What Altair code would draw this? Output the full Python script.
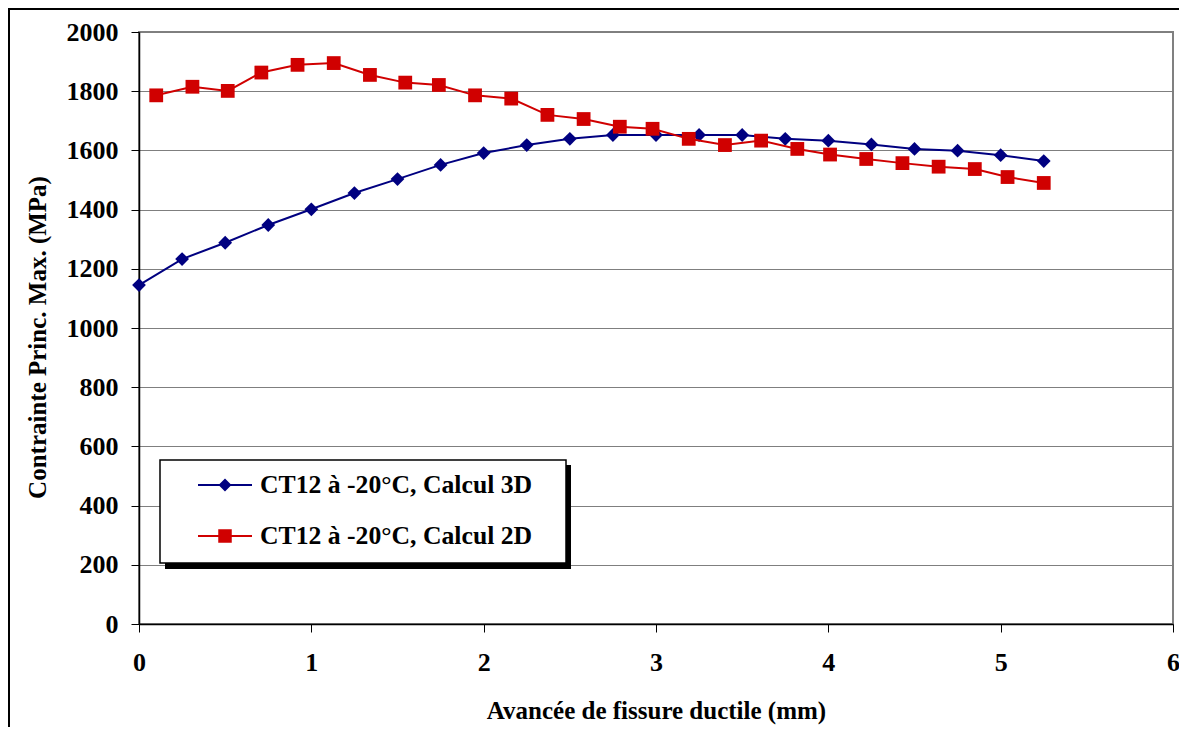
import altair as alt
import pandas as pd

# ---- data ----
names = ["CT12 à -20°C, Calcul 3D", "CT12 à -20°C, Calcul 2D"]
colors = ["#000080", "#D00000"]

x3d = [0.0, 0.25, 0.5, 0.75, 1.0, 1.25, 1.5, 1.75, 2.0, 2.25, 2.5, 2.75,
       3.0, 3.25, 3.5, 3.75, 4.0, 4.25, 4.5, 4.75, 5.0, 5.25]
y3d = [1145, 1233, 1288, 1348, 1401, 1456, 1503, 1551, 1591, 1618, 1639, 1652,
       1652, 1652, 1652, 1639, 1633, 1620, 1605, 1599, 1584, 1564]

x2d = [0.10, 0.31, 0.515, 0.71, 0.92, 1.13, 1.34, 1.545, 1.74, 1.95, 2.16, 2.37,
       2.58, 2.79, 2.98, 3.19, 3.40, 3.61, 3.82, 4.01, 4.22, 4.43, 4.64, 4.85,
       5.04, 5.25]
y2d = [1786, 1815, 1801, 1863, 1889, 1895, 1855, 1829, 1821, 1786, 1775, 1720,
       1706, 1680, 1673, 1639, 1618, 1633, 1605, 1586, 1571, 1557, 1545, 1537,
       1510, 1490]

x_ticks = [0, 1, 2, 3, 4, 5, 6]
y_ticks = [0, 200, 400, 600, 800, 1000, 1200, 1400, 1600, 1800, 2000]

x_title = "Avancée de fissure ductile (mm)"
y_title = "Contrainte Princ. Max. (MPa)"

df = pd.concat([
    pd.DataFrame({"x": x3d, "y": y3d, "serie": names[0]}),
    pd.DataFrame({"x": x2d, "y": y2d, "serie": names[1]}),
], ignore_index=True)

FONT = "Liberation Serif"
W, H = 1034, 592

# legend symbols: line with marker (custom paths)
P3 = "M-1,-0.037H1V0.037H-1Z M0,-0.24L0.24,0L0,0.24L-0.24,0Z"
P2 = "M-1,-0.037H1V0.037H-1Z M-0.25,-0.25H0.25V0.25H-0.25Z"

xscale = alt.Scale(domain=[0, 6], nice=False)
yscale = alt.Scale(domain=[0, 2000], nice=False)
xenc = alt.X("x:Q", scale=xscale,
             axis=alt.Axis(values=x_ticks, format="d", title=x_title, grid=False,
                           labelFlush=False, labelOverlap=False,
                           labelPadding=30, labelBaseline="middle",
                           titleY=86, titleBaseline="middle"))
yenc = alt.Y("y:Q", scale=yscale,
             axis=alt.Axis(values=y_ticks, format="d", title=y_title, grid=True,
                           labelFlush=False, labelOverlap=False, labelPadding=13,
                           titleAngle=270, titleX=-102, titleY=305,
                           titleAlign="center", titleBaseline="middle"))

base = alt.Chart(df)
layers = []
for nm, col, shp in zip(names, colors, ["diamond", "square"]):
    s = base.transform_filter(alt.datum.serie == nm)
    layers.append(s.mark_line(strokeWidth=2, color=col).encode(x=xenc, y=yenc))
    layers.append(s.mark_point(filled=True, size=190, opacity=1, strokeWidth=0,
                               shape=shp, color=col).encode(x="x:Q", y="y:Q"))

legend = alt.Legend(
    title=None, orient="none", legendX=59, legendY=426,
    labelFont=FONT, labelFontSize=25.7, labelFontWeight="bold", labelColor="black",
    labelLimit=600, labelOffset=8, symbolSize=2916, symbolStrokeWidth=0,
    symbolOpacity=1, rowPadding=11, padding=0,
)
leg_layer = base.transform_filter("false").mark_point(filled=True, strokeWidth=0).encode(
    x="x:Q", y="y:Q",
    color=alt.Color("serie:N", scale=alt.Scale(domain=names, range=colors), legend=legend),
    shape=alt.Shape("serie:N", scale=alt.Scale(domain=names, range=[P3, P2]), legend=legend),
)

deco = alt.Chart(alt.Data(values=[{"k": 1}]))
outer = deco.mark_rect(fill="transparent", stroke="black", strokeWidth=2).encode(
    x=alt.value(-130), x2=alt.value(1600), y=alt.value(-23), y2=alt.value(1200))
shadow = deco.mark_rect(fill="black").encode(
    x=alt.value(26), x2=alt.value(432), y=alt.value(433), y2=alt.value(537))
box = deco.mark_rect(fill="white", stroke="black", strokeWidth=1.5).encode(
    x=alt.value(21), x2=alt.value(427), y=alt.value(428), y2=alt.value(531))

chart = alt.layer(outer, *layers, shadow, box, leg_layer).properties(
    width=W, height=H,
    autosize=alt.AutoSizeParams(type="none"),
    padding={"left": 131, "top": 24, "right": 6, "bottom": 103},
    background="white",
).configure_view(
    stroke="#808080", strokeWidth=2,
).configure_axis(
    labelFont=FONT, labelFontSize=26, labelFontWeight="bold", labelColor="black",
    titleFont=FONT, titleFontSize=25, titleFontWeight="bold", titleColor="black",
    domainColor="black", domainWidth=1.5, tickColor="black", tickWidth=1, tickSize=8,
    gridColor="#7f7f7f", gridWidth=1, gridOpacity=1,
)

chart.save("out.html", embed_options={"renderer": "svg", "actions": False})
